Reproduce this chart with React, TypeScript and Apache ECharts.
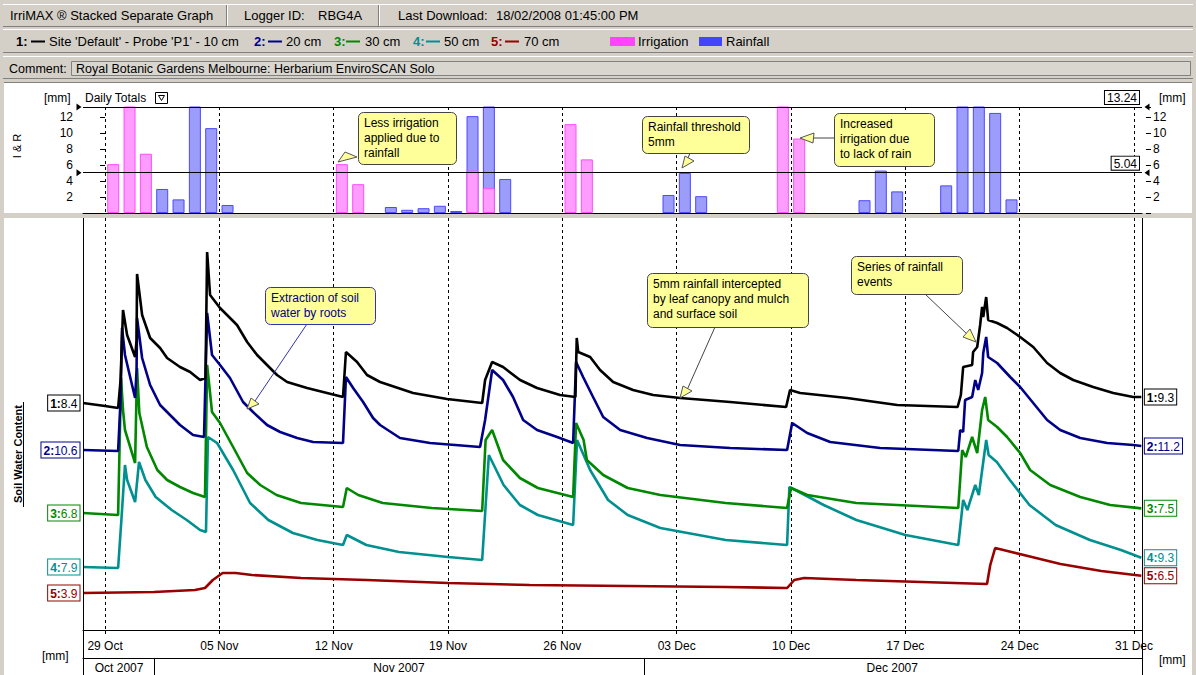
import React, { useEffect, useRef } from "react";
import * as echarts from "echarts";

const FONT = '"Liberation Sans", Arial, sans-serif';

// x values: days since 29 Oct 2007 00:00
const X_MIN = -1.35;
const X_MAX = 63.49;
const weekTicks = [0, 7, 14, 21, 28, 35, 42, 49, 56, 63];
const weekLabels = ["29 Oct", "05 Nov", "12 Nov", "19 Nov", "26 Nov", "03 Dec", "10 Dec", "17 Dec", "24 Dec", "31 Dec"];
const monthStarts = [3, 33];
const monthCentres = [0.86, 18.0, 48.2];
const monthLabels = ["Oct 2007", "Nov 2007", "Dec 2007"];

// Daily totals (day index since 29 Oct), mm
const barDays = [0, 1, 2, 3, 4, 5, 6, 7, 14, 15, 17, 18, 19, 20, 21, 22, 23, 24, 28, 29, 34, 35, 36, 41, 42, 46, 47, 48, 51, 52, 53, 54, 55];
const irrigationMm: (number | null)[] = [6.1, 16, 7.4, null, null, null, null, null, 6.1, 3.6, null, null, null, null, null, 5.3, 3.1, null, 11.1, 6.7, null, null, null, 16, 9.3, null, null, null, null, null, null, null, null];
const rainfallMm: (number | null)[] = [null, null, null, 3.0, 1.7, 18, 10.6, 1.0, null, null, 0.75, 0.4, 0.6, 0.9, 0.25, 6.8, 12, 4.25, null, null, 2.25, 5.0, 2.1, null, null, 1.6, 5.3, 2.7, 3.45, 18, 18, 12.5, 1.7];
const IR_MAX = 13.24;
const THRESHOLD = 5.04;

// Soil water content per probe depth [day, value]
const probe10 = [[-1.35, 8.4], [0.0, 7.95], [0.8, 7.65], [0.95, 11.85], [1.1, 22.35], [1.35, 18.6], [1.84, 15.3], [1.93, 17.85], [1.96, 27.75], [2.27, 21.6], [2.76, 18.15], [3.37, 16.65], [3.8, 15.15], [4.59, 13.8], [5.21, 13.05], [5.82, 11.85], [6.15, 12.15], [6.25, 31.05], [6.43, 24.6], [7.04, 22.65], [7.47, 21.6], [8.08, 20.1], [8.7, 17.55], [9.31, 15.6], [9.92, 14.1], [10.53, 12.6], [11.15, 11.55], [12.37, 10.65], [13.59, 9.9], [14.57, 9.3], [14.75, 16.05], [15.43, 14.55], [16.04, 12.6], [16.84, 11.55], [18.86, 9.9], [20.94, 9.0], [23.09, 8.4], [23.27, 11.85], [23.7, 14.55], [24.37, 13.8], [25.41, 11.85], [26.45, 10.65], [27.86, 9.6], [28.8, 9.3], [28.88, 18.15], [28.97, 16.05], [29.7, 15.3], [30.31, 13.35], [31.11, 11.55], [32.33, 10.35], [33.56, 9.6], [35.21, 9.15], [38.27, 8.55], [41.7, 7.8], [41.94, 10.35], [42.56, 9.9], [45.44, 9.15], [48.5, 8.1], [52.2, 7.8], [52.4, 9.6], [52.54, 13.8], [53.09, 14.1], [53.15, 16.05], [53.4, 16.8], [53.58, 20.1], [53.7, 22.8], [53.77, 21.3], [53.95, 24.3], [54.07, 20.85], [54.62, 20.4], [55.23, 19.65], [56.03, 18.3], [56.83, 16.8], [57.68, 14.4], [58.48, 12.9], [59.28, 11.85], [60.5, 10.8], [61.73, 9.9], [62.95, 9.3], [63.45, 9.3]];
const probe20 = [[-1.35, 10.6], [0.8, 10.45], [0.95, 18.1], [1.04, 28.9], [1.22, 24.85], [1.84, 18.4], [1.93, 22.6], [1.96, 30.4], [2.27, 24.4], [2.76, 20.35], [3.37, 17.35], [3.98, 15.85], [4.59, 14.35], [5.39, 12.85], [6.06, 12.55], [6.25, 31.15], [6.55, 24.85], [7.04, 23.35], [7.65, 21.4], [8.45, 17.8], [9.06, 16.3], [9.92, 14.35], [10.72, 13.3], [11.76, 12.4], [12.74, 11.8], [14.57, 11.65], [14.75, 21.55], [15.19, 19.9], [15.8, 17.8], [16.41, 15.4], [16.84, 14.35], [18.06, 12.4], [19.9, 11.65], [22.96, 11.05], [23.27, 15.1], [23.7, 22.6], [24.37, 21.1], [24.98, 18.55], [25.6, 15.1], [26.45, 13.6], [27.68, 12.55], [28.66, 11.65], [28.84, 23.8], [29.27, 21.55], [29.88, 18.55], [30.5, 15.55], [31.54, 13.6], [33.19, 12.4], [35.21, 11.35], [38.27, 10.9], [41.76, 10.6], [42.07, 14.65], [42.99, 13.15], [44.4, 11.8], [47.46, 10.9], [52.24, 10.45], [52.36, 13.6], [52.54, 13.3], [52.66, 18.1], [53.09, 18.55], [53.28, 21.1], [53.46, 19.6], [53.7, 22.15], [53.77, 25.15], [53.95, 27.55], [54.07, 24.55], [54.62, 23.65], [55.42, 21.55], [56.03, 20.05], [56.83, 17.65], [57.68, 15.1], [58.48, 13.6], [59.71, 12.4], [61.36, 11.65], [62.95, 11.35], [63.45, 11.2]];
const probe30 = [[-1.35, 6.8], [0.8, 6.5], [0.98, 27.05], [1.1, 22.25], [1.22, 19.25], [1.84, 14.3], [1.96, 28.55], [2.1, 21.8], [2.56, 16.7], [3.2, 13.25], [3.8, 11.75], [4.59, 10.7], [5.39, 9.8], [6.12, 9.2], [6.25, 29.0], [6.55, 21.95], [7.04, 20.3], [7.84, 16.7], [8.7, 12.8], [9.5, 11.0], [10.5, 9.5], [12.0, 8.3], [14.57, 7.7], [14.8, 10.55], [15.5, 9.5], [17.0, 8.3], [20.0, 7.55], [23.09, 7.1], [23.3, 17.75], [23.7, 19.25], [24.37, 14.75], [25.4, 12.05], [26.5, 10.55], [28.66, 9.2], [28.84, 20.3], [29.3, 17.75], [29.5, 14.75], [30.5, 12.5], [32.0, 10.55], [34.0, 9.5], [38.0, 8.3], [41.76, 7.55], [42.0, 10.55], [43.0, 9.5], [46.0, 8.3], [52.24, 7.55], [52.48, 16.25], [52.7, 15.2], [53.09, 18.2], [53.4, 15.8], [53.7, 22.25], [53.89, 24.2], [54.07, 20.75], [54.62, 19.7], [55.23, 18.2], [56.03, 15.8], [56.64, 13.25], [57.87, 11.0], [59.71, 9.2], [61.54, 8.0], [63.45, 7.5]];
const probe50 = [[-1.35, 7.9], [0.8, 7.75], [1.0, 14.95], [1.22, 23.2], [1.35, 20.95], [1.84, 17.65], [2.08, 23.65], [2.47, 20.95], [3.1, 18.4], [4.08, 16.45], [5.0, 14.95], [5.82, 13.45], [6.18, 13.15], [6.3, 27.4], [6.86, 26.5], [7.84, 22.45], [8.88, 17.5], [10.0, 14.95], [11.5, 13.0], [13.0, 11.95], [14.57, 11.2], [14.8, 12.7], [16.0, 11.2], [18.0, 10.15], [21.0, 9.4], [23.09, 8.95], [23.5, 24.7], [24.4, 20.2], [25.4, 17.2], [26.5, 15.7], [28.66, 14.2], [28.9, 26.95], [29.7, 22.45], [30.8, 17.95], [32.0, 15.7], [34.0, 13.75], [38.0, 11.95], [41.76, 11.2], [41.9, 19.9], [42.5, 19.15], [44.0, 17.2], [46.0, 14.95], [49.0, 12.7], [52.24, 11.2], [52.54, 17.95], [52.8, 16.45], [53.28, 20.2], [53.5, 18.7], [53.95, 26.95], [54.1, 24.7], [54.6, 23.65], [55.4, 20.95], [56.6, 17.2], [58.2, 14.2], [60.3, 11.95], [62.2, 10.45], [63.45, 9.3]];
const probe70 = [[-1.35, 3.9], [3.0, 4.05], [5.5, 4.35], [6.12, 4.65], [6.6, 5.85], [7.2, 6.9], [8.0, 6.9], [9.0, 6.6], [12.0, 6.15], [16.0, 5.85], [21.0, 5.4], [26.0, 5.1], [32.0, 4.95], [38.0, 4.8], [41.76, 4.65], [42.2, 5.85], [42.8, 6.15], [46.0, 5.85], [50.0, 5.55], [54.0, 5.25], [54.2, 8.1], [54.5, 10.65], [55.0, 10.35], [56.5, 9.45], [58.5, 8.25], [61.0, 7.2], [63.45, 6.5]];

const probeData = [probe10, probe20, probe30, probe50, probe70];
const probeNames = ["Site 'Default' - Probe 'P1' - 10 cm", "20 cm", "30 cm", "50 cm", "70 cm"];
const probeColors = ["#000000", "#000088", "#008800", "#009090", "#990000"];
// each probe has its own separate scale in the stacked separate graph
const probeAxisRanges = [[-25.65, 36.15], [-16.4, 45.4], [-10.75, 51.05], [-1.55, 60.25], [-1.65, 60.15]];

const T = (text: string, x: number, y: number, o: any = {}) => ({
  type: "text", x, y, z: 60, silent: true, rotation: o.rot || 0,
  style: {
    text, fill: o.color || "#000", fontSize: o.size || 12, fontFamily: FONT,
    fontWeight: o.bold ? "bold" : "normal", align: o.align || "left", verticalAlign: "middle",
  },
});
const L = (x1: number, y1: number, x2: number, y2: number, color: string, w = 1, z = 55) => ({
  type: "line", z, silent: true, shape: { x1, y1, x2, y2 }, style: { stroke: color, lineWidth: w },
});
const R = (x: number, y: number, w: number, h: number, fill: string, stroke?: string, z = 50, r = 0) => ({
  type: "rect", z, silent: true, shape: { x, y, width: w, height: h, r },
  style: { fill, stroke: stroke || null, lineWidth: 1 },
});
const P = (pts: number[][], fill: string, stroke: string, z = 70) => ({
  type: "polygon", z, silent: true, shape: { points: pts }, style: { fill, stroke, lineWidth: 1 },
});

function callout(x: number, y: number, w: number, h: number, lines: string[], color: string, border: string, tri: number[][], line?: number[]) {
  const els: any[] = [];
  if (line) els.push(L(line[0], line[1], line[2], line[3], border, 1, 68));
  els.push(P(tri, "#ffff99", "#555", 71));
  els.push({ ...R(x + 0.5, y + 0.5, w, h, "#ffff99", border, 69, 5) });
  lines.forEach((t, i) => els.push({ ...T(t, x + 6, y + 11 + i * 15, { color }), z: 72 }));
  return els;
}

export default function App() {
  const ref = useRef<HTMLDivElement>(null);
  useEffect(() => {
    const chart = echarts.init(ref.current!, undefined, { renderer: "svg" });

    const weekFmt = (v: number) => {
      const i = weekTicks.findIndex((t) => Math.abs(t - v) < 0.01);
      return i >= 0 ? weekLabels[i] : "";
    };
    const monthFmt = (v: number) => {
      const i = monthCentres.findIndex((t) => Math.abs(t - v) < 0.01);
      return i >= 0 ? monthLabels[i] : "";
    };
    const irFmt = (v: number) => (v > 0 && v < 13 && Math.abs(v % 2) < 1e-6 ? String(v) : "");

    const graphics: any[] = [
      // panels
      R(4, 82, 1188, 131, "#ffffff", undefined, -10),
      R(4, 218, 1188, 457, "#ffffff", undefined, -10),
      L(4, 82.5, 1192, 82.5, "#808080"),
      // header row 1
      L(3, 4.5, 1193, 4.5, "#ffffff"), L(3, 26.5, 1193, 26.5, "#808080"),
      L(226.5, 5, 226.5, 26, "#808080"), L(227.5, 5, 227.5, 26, "#ffffff"),
      L(378.5, 5, 378.5, 26, "#808080"), L(379.5, 5, 379.5, 26, "#ffffff"),
      T("IrriMAX ® Stacked Separate Graph", 10, 15.5, { size: 13 }),
      T("Logger ID:", 244, 15.5, { size: 13 }), T("RBG4A", 318, 15.5, { size: 13 }),
      T("Last Download:", 398, 15.5, { size: 13 }), T("18/02/2008 01:45:00 PM", 496, 15.5, { size: 13 }),
      // header row 2 (legend)
      L(3, 29.5, 1193, 29.5, "#ffffff"), L(3, 52.5, 1193, 52.5, "#808080"),
      // header row 3
      L(3, 56.5, 1193, 56.5, "#ffffff"), L(3, 78.5, 1193, 78.5, "#808080"),
      R(71.5, 61.5, 1119, 14, "#d9d6cf", "#808080"),
      T("Comment:", 9, 68.5, { size: 12.5 }),
      T("Royal Botanic Gardens Melbourne: Herbarium EnviroSCAN Solo", 76, 68.5, { size: 12.5 }),
      // top chart texts
      T("[mm]", 44, 98), T("Daily Totals", 85, 98),
      R(155.5, 92.5, 12, 11, "#ffffff", "#000000"),
      P([[158.5, 95.5], [164.5, 95.5], [161.5, 100.5]], "none", "#000000", 61),
      T("[mm]", 1159, 98),
      T("I & R", 17, 146, { rot: Math.PI / 2, align: "center", size: 11 }),
      // main chart texts
      T("Soil Water Content", 18, 454, { rot: Math.PI / 2, align: "center", bold: true, size: 11 }),
      L(23.5, 402, 23.5, 507, "#000000"),
      T("[mm]", 42, 656), T("[mm]", 1159, 660),
      L(83.5, 218, 83.5, 675, "#000000"), L(1142.5, 218, 1142.5, 675, "#000000"),
    ];

    // legend row
    const legX = [[16, 31, 49], [254, 268, 286], [334, 346, 365], [413, 426, 444], [491, 505, 524]];
    probeNames.forEach((n, i) => {
      const [a, b, c] = legX[i];
      graphics.push(T(`${i + 1}:`, a, 41.5, { bold: true, color: probeColors[i], size: 13 }));
      graphics.push(L(b, 41.5, b + 14, 41.5, probeColors[i], 2));
      graphics.push(T(n, c, 41.5, { size: 13 }));
    });
    graphics.push(R(610, 37, 25, 9, "#ff44ff"), T("Irrigation", 638, 41.5, { size: 13 }));
    graphics.push(R(699, 37, 23, 9, "#4444ff"), T("Rainfall", 726, 41.5, { size: 13 }));

    // callouts
    graphics.push(...callout(358, 112, 98, 52, ["Less irrigation", "applied due to", "rainfall"], "#000", "#444",
      [[338, 162], [345, 152], [357, 157]]));
    graphics.push(...callout(642, 116, 107, 37, ["Rainfall threshold", "5mm"], "#000", "#444",
      [[682, 168], [685, 156], [694, 161]], [690, 153, 688, 158]));
    graphics.push(...callout(834, 113, 100, 53, ["Increased", "irrigation due", "to lack of rain"], "#000", "#444",
      [[800, 138], [814, 133], [813, 143]], [834, 138, 812, 138]));
    graphics.push(...callout(265, 287, 110, 37, ["Extraction of soil", "water by roots"], "#000080", "#3333aa",
      [[247, 409], [251, 398], [259, 404]], [307, 324, 255, 401]));
    graphics.push(...callout(647, 273, 161, 54, ["5mm rainfall intercepted", "by leaf canopy and mulch", "and surface soil"], "#000", "#444",
      [[680, 398], [683, 386], [692, 391]], [715, 327, 687, 390]));
    graphics.push(...callout(851, 256, 111, 38, ["Series of rainfall", "events"], "#000", "#444",
      [[976, 342], [963, 337], [970, 329]], [925, 294, 967, 334]));

    const lineSeries = probeData.map((d, i) => {
      const first = d[0];
      const last = d[d.length - 1];
      const lbl = (v: number) => `{n|${i + 1}:}${v.toFixed(1)}`;
      return {
        type: "line", name: probeNames[i], xAxisIndex: 1, yAxisIndex: 2 + i,
        data: d, symbol: "none", showSymbol: false, z: 10 - i,
        lineStyle: { color: probeColors[i], width: 2.6 },
        markPoint: {
          symbol: "rect", symbolSize: 1, itemStyle: { color: "rgba(0,0,0,0)" }, silent: true,
          label: {
            show: true, color: probeColors[i], fontSize: 12, fontFamily: FONT,
            backgroundColor: "#ffffff", borderColor: probeColors[i], borderWidth: 1, padding: [2, 2, 1, 2],
            rich: { n: { fontWeight: "bold", color: probeColors[i], fontSize: 12, fontFamily: FONT } },
          },
          data: [
            { coord: first, label: { position: "left", distance: 3, formatter: lbl(first[1]) } },
            { coord: last, label: { position: "right", distance: 3, formatter: lbl(last[1]) } },
          ],
        },
      };
    });

    // rainfall bars are drawn from 0 to the daily total (irrigation + rainfall), with the
    // irrigation bar drawn in front, so the blue part sits stacked on top of the pink part
    const rainTotals = barDays.map((d, i) => {
      const r = rainfallMm[i];
      if (r == null) return [d + 0.5, "-"];
      return [d + 0.5, (irrigationMm[i] ?? 0) + r];
    });

    const option: any = {
      animation: false,
      textStyle: { fontFamily: FONT },
      grid: [
        { left: 83, right: 54, top: 107, height: 106 },
        { left: 83, right: 54, top: 218, height: 412 },
      ],
      xAxis: [
        {
          type: "value", gridIndex: 0, min: X_MIN, max: X_MAX,
          axisLine: { show: true, onZero: false, lineStyle: { color: "#000" } },
          axisTick: { show: false, customValues: weekTicks },
          axisLabel: { show: false },
          splitLine: { show: true, lineStyle: { color: "#000", type: [3, 3], width: 1 } },
        },
        {
          type: "value", gridIndex: 1, min: X_MIN, max: X_MAX, position: "bottom",
          axisLine: { show: true, onZero: false, lineStyle: { color: "#000" } },
          axisTick: { show: true, customValues: weekTicks, length: 4, lineStyle: { color: "#000" } },
          axisLabel: { show: true, customValues: weekTicks, formatter: weekFmt, color: "#000", fontSize: 12, margin: 10, fontFamily: FONT },
          splitLine: { show: true, lineStyle: { color: "#000", type: [3, 3], width: 1 } },
        },
        {
          type: "value", gridIndex: 1, min: X_MIN, max: X_MAX, position: "bottom", offset: 28,
          axisLine: { show: true, onZero: false, lineStyle: { color: "#000" } },
          axisTick: { show: true, customValues: monthStarts, length: 20, lineStyle: { color: "#000" } },
          axisLabel: { show: true, customValues: monthCentres, formatter: monthFmt, color: "#000", fontSize: 12, margin: 4, fontFamily: FONT },
          splitLine: { show: false },
        },
      ],
      yAxis: [
        {
          type: "value", gridIndex: 0, position: "left", min: 0, max: IR_MAX, interval: 2, offset: 2,
          axisLine: { show: false }, axisTick: { show: true, length: 5, lineStyle: { color: "#000" } },
          axisLabel: { formatter: irFmt, color: "#000", fontSize: 12, margin: 8, fontFamily: FONT },
          splitLine: { show: false },
        },
        {
          type: "value", gridIndex: 0, position: "right", min: 0, max: IR_MAX, interval: 2, offset: 4,
          axisLine: { show: false }, axisTick: { show: true, length: 5, lineStyle: { color: "#000" } },
          axisLabel: { formatter: irFmt, color: "#000", fontSize: 12, margin: 7, fontFamily: FONT },
          splitLine: { show: false },
        },
        ...probeAxisRanges.map((r) => ({
          type: "value", gridIndex: 1, min: r[0], max: r[1], show: false, splitLine: { show: false },
        })),
      ],
      series: [
        {
          type: "bar", name: "Rainfall", xAxisIndex: 0, yAxisIndex: 0, barWidth: 12, barGap: "-100%",
          data: rainTotals,
          itemStyle: { color: "#9c9cfa", borderColor: "#4a4aff", borderWidth: 1 },
          z: 2,
        },
        {
          type: "bar", name: "Irrigation", xAxisIndex: 0, yAxisIndex: 0, barWidth: 12, barGap: "-100%",
          data: barDays.map((d, i) => [d + 0.5, irrigationMm[i] == null ? "-" : irrigationMm[i]]),
          itemStyle: { color: "#ff9cff", borderColor: "#ff4dff", borderWidth: 1 },
          z: 3,
          markLine: {
            silent: true, symbol: "none", precision: 2,
            lineStyle: { color: "#000", type: "solid", width: 1 },
            label: {
              show: true, position: "insideEndTop", distance: 3, formatter: "{c}", color: "#000",
              fontSize: 12, fontFamily: FONT, backgroundColor: "#fff", borderColor: "#000", borderWidth: 1, padding: [1, 2, 0, 2],
            },
            data: [{ yAxis: IR_MAX }, { yAxis: THRESHOLD }],
          },
          markPoint: {
            silent: true, symbol: "triangle", symbolSize: [7, 5], itemStyle: { color: "#000" }, label: { show: false },
            data: [
              { coord: [X_MIN, IR_MAX], symbolRotate: -90, symbolOffset: [-4, 0] },
              { coord: [X_MIN, THRESHOLD], symbolRotate: -90, symbolOffset: [-4, 0] },
              { coord: [X_MAX, IR_MAX], symbolRotate: 90, symbolOffset: [5, 0] },
              { coord: [X_MAX, THRESHOLD], symbolRotate: 90, symbolOffset: [5, 0] },
            ],
          },
        },
        ...lineSeries,
      ],
      graphic: { elements: graphics },
    };
    chart.setOption(option);
    return () => chart.dispose();
  }, []);
  return (
    <div
      ref={ref}
      style={{ position: "absolute", left: 0, top: 0, width: 1196, height: 675, background: "#d4d0c8" }}
    />
  );
}
